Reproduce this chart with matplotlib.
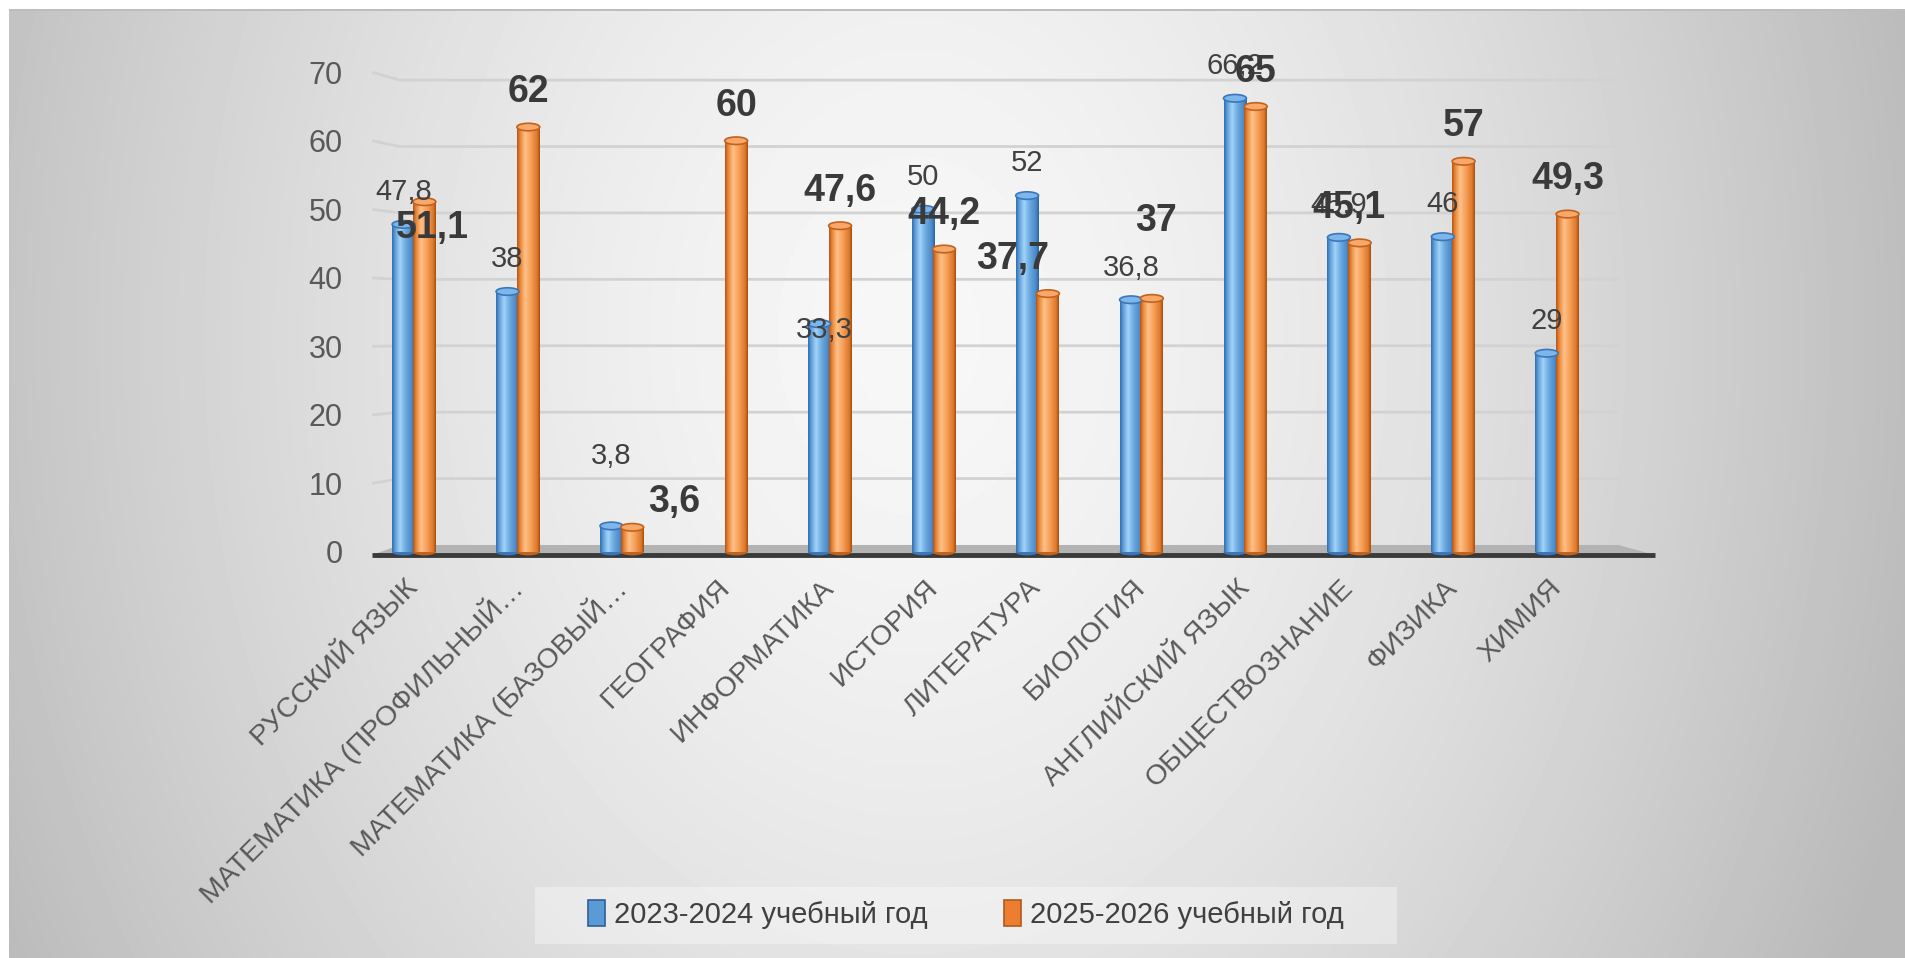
import numpy as np
import matplotlib
matplotlib.use("Agg")
import matplotlib.pyplot as plt
from matplotlib.patches import Ellipse, Polygon, Rectangle, Patch

plt.rcParams['font.family'] = ['Liberation Sans', 'DejaVu Sans']

# data
subjects = ["РУССКИЙ ЯЗЫК", "МАТЕМАТИКА (ПРОФИЛЬНЫЙ…", "МАТЕМАТИКА (БАЗОВЫЙ…",
            "ГЕОГРАФИЯ", "ИНФОРМАТИКА", "ИСТОРИЯ", "ЛИТЕРАТУРА", "БИОЛОГИЯ",
            "АНГЛИЙСКИЙ ЯЗЫК", "ОБЩЕСТВОЗНАНИЕ", "ФИЗИКА", "ХИМИЯ"]
year_2023 = [47.8, 38, 3.8, np.nan, 33.3, 50, 52, 36.8, 66.2, 45.9, 46, 29]
year_2025 = [51.1, 62, 3.6, 60, 47.6, 44.2, 37.7, 37, 65, 45.1, 57, 49.3]
series_names = ["2023-2024 учебный год", "2025-2026 учебный год"]
y_ticks = [0, 10, 20, 30, 40, 50, 60, 70]

# manual label moves (dx in categories, dy in values), like in the original chart
nudge_2023 = {2: (0.0, 5.5), 4: (0.05, -5.6)}
nudge_2025 = {0: (0.08, -8.9), 2: (0.4, -1.4), 6: (-0.34, 0.0), 7: (0.04, 6.2), 9: (-0.1, 0.0)}

W, H = 1905, 958
fig = plt.figure(figsize=(W / 100, H / 100), dpi=100)

# background: soft radial gray gradient with white margin
yy, xx = np.mgrid[0:H, 0:W]
r = np.sqrt(((xx / W - 0.48) / 0.5) ** 2 + ((yy / H - 0.35) / 1.3) ** 2)
gray = np.clip(247 - 54 * r ** 1.5, 185, 250) / 255.0
gray[:9, :] = 1.0
gray[:, :9] = 1.0
gray[9:11, 9:] = 0.74
bg = fig.add_axes([0, 0, 1, 1], zorder=-10)
bg.imshow(gray, cmap='gray', vmin=0, vmax=1, aspect='auto', interpolation='bilinear')
bg.axis('off')

ax = fig.add_axes([372 / W, 1 - 570 / H, (1660 - 372) / W, (570 - 40) / H])
ax.set_facecolor('none')
x0, x1 = -0.404, 11.99

# back wall gridlines with a small perspective kink at the left
for g in y_ticks[1:]:
    yb = 1.02 + 0.969 * g
    ax.plot([x0, -0.135, 11.59], [g, yb, yb], color='#d2d2d2', lw=2, zorder=1,
            solid_capstyle='butt')

# floor
ax.add_patch(Polygon([(x0, -0.44), (11.94, -0.44), (11.59, 1.02), (-0.135, 1.02)],
                     closed=True, facecolor='#b3b3b3', edgecolor='none', zorder=2))
ax.plot([x0, 11.94], [-0.44, -0.44], color='#3a3a3a', lw=3.5, zorder=3,
        solid_capstyle='butt')


def gradient_row(stops):
    pos = [s[0] for s in stops]
    cols = np.array([matplotlib.colors.to_rgb(s[1]) for s in stops])
    t = np.linspace(0, 1, 64)
    return np.stack([np.interp(t, pos, cols[:, k]) for k in range(3)], axis=-1)[None, :, :]


blue_grad = gradient_row([(0, '#356dae'), (0.12, '#5a9ad8'), (0.35, '#a3d3f7'),
                          (0.6, '#6aa9e0'), (0.88, '#4a88c8'), (1, '#2d62a0')])
orange_grad = gradient_row([(0, '#b2561a'), (0.12, '#e8812f'), (0.35, '#ffc18a'),
                            (0.6, '#f6a15a'), (0.88, '#df792b'), (1, '#a54f10')])

xs = np.arange(len(subjects))
bw = 0.22
specs = [(year_2023, -0.1, blue_grad, '#7db6ea', '#3a76ba'),
         (year_2025, 0.1, orange_grad, '#f8a868', '#c2621f')]
for vals, off, grad, cap, edge in specs:
    bars = ax.bar(xs + off, vals, bw, color='none', edgecolor='none', zorder=4)
    for b, v in zip(bars, vals):
        if np.isnan(v):
            continue
        bx, bwid = b.get_x(), b.get_width()
        im = ax.imshow(grad, extent=[bx, bx + bwid, 0, v], aspect='auto', zorder=4,
                       interpolation='bilinear')
        im.set_clip_path(b)
        ax.add_patch(Ellipse((bx + bwid / 2, 0), bwid, 1.0, facecolor=edge,
                             edgecolor='none', zorder=3.9))
        ax.add_patch(Ellipse((bx + bwid / 2, v), bwid, 1.1, facecolor=cap,
                             edgecolor=edge, lw=1.2, zorder=4.5))

# data labels
for i, v in enumerate(year_2023):
    if np.isnan(v):
        continue
    dx, dy = nudge_2023.get(i, (0, 0))
    ax.text(i - 0.1 + dx, v + 4.7 + dy, f"{v:g}".replace('.', ','), ha='center',
            va='center', fontsize=21, color='#404040', zorder=6)
for i, v in enumerate(year_2025):
    dx, dy = nudge_2025.get(i, (0, 0))
    ax.text(i + 0.1 + dx, v + 5.1 + dy, f"{v:g}".replace('.', ','), ha='center',
            va='center', fontsize=27, fontweight='bold', color='#3a3a3a', zorder=6)

ax.set_xlim(x0, x1)
ax.set_ylim(-2.63, 74.7)
ax.set_yticks(y_ticks)
ax.set_yticklabels([str(t) for t in y_ticks], fontsize=22, color='#595959')
ax.set_xticks(xs)
ax.set_xticklabels(subjects, rotation=45, ha='right', va='center',
                   rotation_mode='anchor', fontsize=20.5, color='#595959')
ax.tick_params(axis='y', length=0, pad=21)
ax.tick_params(axis='x', length=0, pad=10)
for s in ax.spines.values():
    s.set_visible(False)

# legend with its own light box
fig.patches.append(Rectangle((535 / W, 1 - 944 / H), (1397 - 535) / W, 57 / H,
                             transform=fig.transFigure, facecolor='white', alpha=0.35,
                             edgecolor='none', zorder=1))
handles = [Patch(facecolor='#5b9bd5', edgecolor='#2e5f99', lw=1.2),
           Patch(facecolor='#ed7d31', edgecolor='#ae5a1f', lw=1.2)]
fig.legend(handles, series_names, loc='center', bbox_to_anchor=(0.507, 0.045), ncol=2,
           frameon=False, fontsize=21, handlelength=0.6, handleheight=1.0,
           handletextpad=0.3, columnspacing=2.6, labelcolor='#404040')

fig.savefig('out.png', dpi=100)
